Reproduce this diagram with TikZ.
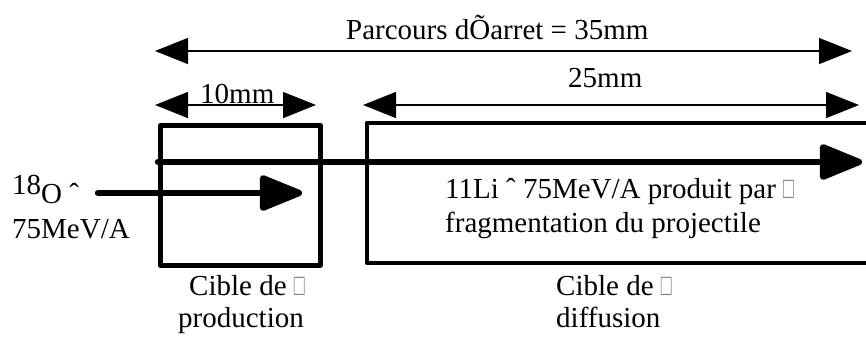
\documentclass[tikz,border=0pt]{standalone}
\usepackage{fontspec}
\setmainfont{Liberation Serif}
\usetikzlibrary{arrows.meta}
\newcommand{\missbox}{\textcolor{gray}{\scalebox{0.62}[1.05]{□}}}
\begin{document}
\begin{tikzpicture}[x=1pt,y=-1pt,
  lbl/.style={anchor=base west,inner sep=0pt,font=\fontsize{29}{35}\selectfont},
  dim/.style={line width=1.5pt,{Triangle[length=33pt,width=26pt]}-{Triangle[length=33pt,width=26pt]}},
  beam/.style={line width=6.5pt,line cap=round,-{Triangle[length=48pt,width=37pt,round=false]}},
  target/.style={line width=4.5pt,line join=round}]
\useasboundingbox (0,0) rectangle (866,338);
% targets
\node[target,draw,minimum width=160pt,minimum height=140pt,inner sep=0pt,anchor=north west] (prod) at (158,123) {};
\coordinate (dtl) at (367,123);
\coordinate (dbl) at (367,263);
\coordinate (dtr) at (870,123);
\coordinate (dbr) at (870,263);
\draw[target] (dtr) -- (dtl) -- (dbl) -- (dbr);
% dimension arrows
\coordinate (a1) at (155,51); \coordinate (b1) at (852,51);
\coordinate (a2) at (155,105); \coordinate (b2) at (316,105);
\coordinate (a3) at (363,105); \coordinate (b3) at (859,105);
\draw[dim] (a1) -- (b1);
\draw[dim] (a2) -- (b2);
\draw[dim] (a3) -- (b3);
% beams
\coordinate (c1) at (158,162); \coordinate (d1) at (862,162);
\coordinate (c2) at (98,193); \coordinate (d2) at (302,193);
\draw[beam] (c1) -- (d1);
\draw[beam] (c2) -- (d2);
% labels
\node[lbl] (t1) at (346,39) {Parcours dÕarret = 35mm};
\node[lbl] (t2) at (200,103) {10mm};
\node[lbl] (t3) at (568,87) {25mm};
\node[lbl] (t4) at (12,203) {\raisebox{9pt}{18}O ˆ};
\node[lbl] (t5) at (12,238) {75MeV/A};
\node[lbl] (t6) at (445,198) {11Li ˆ 75MeV/A produit par \missbox};
\node[lbl] (t7) at (445,232) {fragmentation du projectile};
\node[lbl] (t8) at (189,295) {Cible de \missbox};
\node[lbl] (t9) at (178,327) {production};
\node[lbl] (t10) at (556,295) {Cible de \missbox};
\node[lbl] (t11) at (556,327) {diffusion};
\end{tikzpicture}
\end{document}
